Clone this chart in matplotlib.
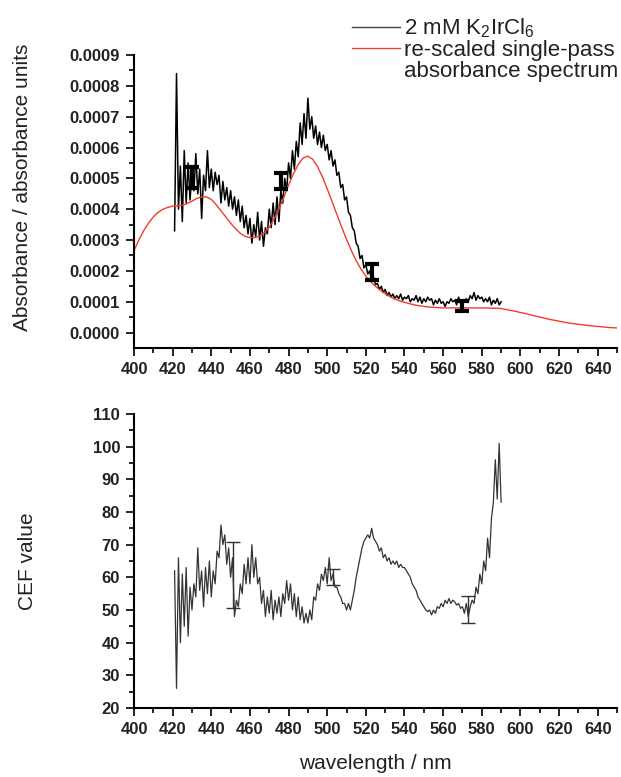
"""K2IrCl6 absorbance spectrum and CEF value vs wavelength (two stacked panels)."""

import numpy as np
import matplotlib
matplotlib.use("Agg")
import matplotlib.pyplot as plt
from matplotlib.lines import Line2D

plt.rcParams["font.family"] = ["Liberation Sans", "DejaVu Sans"]
plt.rcParams["mathtext.fontset"] = "custom"
plt.rcParams["mathtext.rm"] = "Liberation Sans"

# ── data ────────────────────────────────────────────────────
wavelength = np.arange(421, 591)  # nm, measured range

# 2 mM K2IrCl6 absorbance, units of 1e-4 absorbance units
k2ircl6_abs = [
    3.3, 8.4, 4.0, 5.4, 3.6, 5.9, 4.2, 5.5, 4.3, 5.2,
    4.6, 5.8, 4.5, 5.3, 3.7, 5.1, 4.6, 5.9, 4.7, 5.3,
    4.6, 5.2, 4.8, 5.1, 4.2, 4.9, 4.3, 4.7, 4.1, 4.6,
    4.0, 4.4, 3.8, 4.3, 3.6, 4.1, 3.4, 3.8, 3.2, 3.7,
    2.9, 3.5, 3.1, 3.9, 3.0, 3.6, 2.8, 3.4, 3.2, 4.0,
    3.4, 4.2, 3.5, 4.4, 3.6, 4.6, 4.2, 5.0, 4.6, 5.5,
    5.0, 5.9, 5.3, 6.2, 5.7, 6.8, 6.1, 7.1, 6.3, 7.6,
    6.6, 7.0, 6.3, 6.7, 6.1, 6.5, 6.0, 6.4, 5.9, 6.1,
    5.6, 5.9, 5.4, 5.6, 5.1, 5.2, 4.7, 4.8, 4.3, 4.4,
    3.9, 3.8, 3.4, 3.3, 2.9, 2.8, 2.4, 2.5, 2.1, 2.2,
    1.9, 2.0, 1.7, 1.8, 1.55, 1.6, 1.4, 1.5, 1.3, 1.4,
    1.2, 1.3, 1.15, 1.25, 1.1, 1.2, 1.1, 1.25, 1.05, 1.15,
    1.1, 1.2, 1.0, 1.1, 1.05, 1.2, 1.0, 1.15, 0.95, 1.1,
    1.0, 1.15, 1.05, 1.1, 0.9, 1.05, 0.95, 1.1, 0.95, 1.0,
    0.85, 1.0, 0.95, 1.1, 1.0, 1.05, 0.9, 1.15, 0.95, 1.05,
    1.0, 1.1, 1.0, 1.2, 1.1, 1.3, 1.05, 1.2, 1.1, 1.15,
    1.0, 1.1, 1.0, 1.15, 0.9, 1.05, 0.95, 1.1, 0.9, 1.0,
]

# re-scaled single-pass absorbance spectrum, 1e-4 units, 2.5 nm steps
single_wl = np.arange(400, 650.1, 2.5)
single_abs = [
    2.66, 3.00, 3.30, 3.55, 3.75, 3.90, 4.00, 4.06, 4.10, 4.11,
    4.13, 4.18, 4.26, 4.35, 4.40, 4.40, 4.32, 4.15, 3.95, 3.75,
    3.55, 3.37, 3.22, 3.12, 3.08, 3.08, 3.13, 3.24, 3.42, 3.68,
    4.00, 4.38, 4.78, 5.15, 5.45, 5.66, 5.72, 5.62, 5.38, 5.05,
    4.66, 4.25, 3.83, 3.42, 3.02, 2.66, 2.33, 2.06, 1.83, 1.65,
    1.50, 1.37, 1.26, 1.17, 1.09, 1.03, 0.98, 0.94, 0.90, 0.87,
    0.85, 0.83, 0.82, 0.81, 0.80, 0.80, 0.80, 0.80, 0.80, 0.80,
    0.80, 0.80, 0.80, 0.80, 0.79, 0.79, 0.78, 0.75, 0.72, 0.69,
    0.65, 0.62, 0.58, 0.54, 0.50, 0.47, 0.43, 0.40, 0.37, 0.34,
    0.31, 0.29, 0.27, 0.25, 0.23, 0.215, 0.20, 0.185, 0.17, 0.16,
    0.15,
]

abs_err_wl = [430, 476, 523, 570]
abs_err_mid = [5.03, 4.92, 1.96, 0.875]
abs_err_half = [0.34, 0.26, 0.27, 0.165]

# CEF value
cef = [
    62, 26, 66, 40, 61, 45, 63, 42, 57, 50,
    58, 54, 69, 56, 62, 51, 63, 55, 65, 54,
    62, 58, 68, 66, 76, 70, 73, 64, 69, 60,
    66, 48, 53, 51, 58, 55, 64, 58, 66, 58,
    70, 60, 66, 58, 60, 52, 56, 48, 54, 49,
    56, 47, 53, 49, 54, 48, 55, 52, 59, 53,
    58, 50, 55, 48, 54, 47, 51, 46, 49, 46,
    50, 47, 54, 53, 58, 56, 61, 59, 63, 58,
    66, 59, 61, 57, 57, 55, 54, 52, 52, 50,
    52, 50, 53, 56, 60, 63, 66, 69, 71, 72,
    73, 72, 75, 72, 71, 70, 68, 69, 66, 67,
    65, 66, 64, 65, 64, 65, 63, 64, 63, 63,
    62, 61, 60, 58, 57, 56, 54, 53, 52, 51,
    50, 49.5, 50, 48.5, 50, 49, 51, 50.5, 52, 51,
    53, 52, 53.5, 52, 53, 52.5, 51.5, 52, 50.5, 51,
    49, 52, 48, 51, 53, 52, 57, 55, 61, 58,
    65, 62, 72, 66, 78, 83, 96, 84, 101, 83,
]

cef_err_wl = [451, 503, 573]
cef_err_mid = [60.8, 60.1, 50.2]
cef_err_half = [10.1, 2.4, 4.2]

SCALE = 1e-4
RED = "#f23b2e"


def style_axes(ax):
    ax.spines["top"].set_visible(False)
    ax.spines["right"].set_visible(False)
    for s in ("left", "bottom"):
        ax.spines[s].set_linewidth(1.5)
    ax.tick_params(which="major", direction="out", length=6, width=1.2,
                   labelsize=12, pad=4, labelcolor="#222222")
    ax.tick_params(which="minor", direction="out", length=3.5, width=1.2)
    for lab in ax.get_xticklabels() + ax.get_yticklabels():
        lab.set_fontweight("bold")
    ax.set_xlim(400, 650)
    ax.set_xticks(np.arange(400, 641, 20))
    ax.set_xticks(np.arange(410, 651, 10), minor=True)


fig = plt.figure(figsize=(6.21, 7.77), dpi=100)
ax1 = fig.add_axes([0.2158, 0.5521, 0.7778, 0.3771])
ax2 = fig.add_axes([0.2158, 0.0888, 0.7778, 0.3784])

# ── top panel ───────────────────────────────────────────────
ax1.plot(wavelength, np.array(k2ircl6_abs) * SCALE, color="black", lw=1.1)
ax1.plot(single_wl, np.array(single_abs) * SCALE, color=RED, lw=1.0)
ax1.errorbar(abs_err_wl, np.array(abs_err_mid) * SCALE,
             yerr=np.array(abs_err_half) * SCALE, fmt="none", ecolor="black",
             elinewidth=3, capsize=5, capthick=3)
ax1.set_ylim(-0.00005, 0.0009)
ax1.set_yticks(np.arange(0, 0.00091, 0.0001))
ax1.set_yticks(np.arange(0.00005, 0.0009, 0.0001), minor=True)
ax1.set_yticklabels([f"{v:.4f}" for v in np.arange(0, 0.00091, 0.0001)])
style_axes(ax1)
ax1.set_ylabel("Absorbance / absorbance units", fontsize=15, color="#222222")
ax1.yaxis.set_label_coords(-0.212, 0.55)

handles = [
    Line2D([], [], color="#444444", lw=1.0),
    Line2D([], [], color=RED, lw=1.0),
    Line2D([], [], color="none"),
]
labels = [
    r"2 mM K$_\mathregular{2}$IrCl$_\mathregular{6}$",
    "re-scaled single-pass",
    "absorbance spectrum",
]
fig.legend(handles, labels, loc="upper left", bbox_to_anchor=(0.545, 0.996),
           frameon=False, fontsize=16, handlelength=2.15, handletextpad=0.18,
           labelspacing=0.0, borderaxespad=0.2, labelcolor="#222222")

# ── bottom panel ────────────────────────────────────────────
ax2.plot(wavelength, cef, color="#333333", lw=0.9)
ax2.errorbar(cef_err_wl, cef_err_mid, yerr=cef_err_half, fmt="none",
             ecolor="#333333", elinewidth=1.0, capsize=5, capthick=1.0)
ax2.set_ylim(20, 110)
ax2.set_yticks(np.arange(20, 111, 10))
ax2.set_yticks(np.arange(25, 110, 10), minor=True)
style_axes(ax2)
ax2.set_ylabel("CEF value", fontsize=15, color="#222222")
ax2.yaxis.set_label_coords(-0.2, 0.5)
ax2.set_xlabel("wavelength / nm", fontsize=15, labelpad=12, color="#222222")

fig.savefig("out.png", dpi=100)
